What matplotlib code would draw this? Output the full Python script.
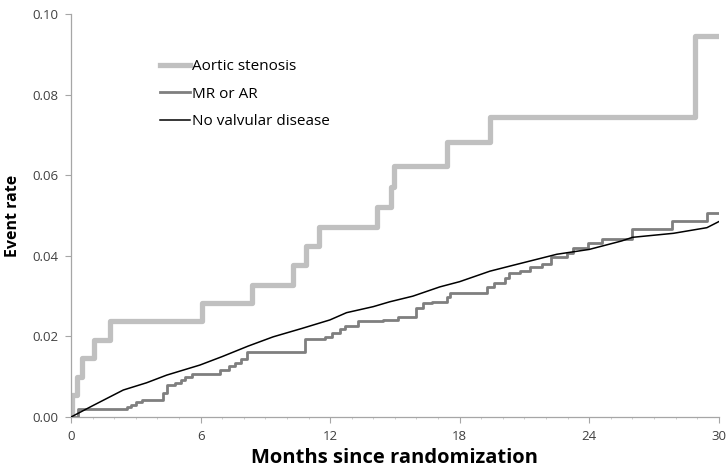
import matplotlib
matplotlib.use('Agg')
import matplotlib.pyplot as plt
from matplotlib.ticker import MultipleLocator

plt.rcParams['font.family'] = ['Open Sans', 'DejaVu Sans']

# Aortic stenosis (step, value holds from t onward)
as_t = [0, 0.05, 0.28, 0.5, 1.08, 1.8, 6.07, 8.4, 10.3, 10.9, 11.5, 14.15,
        14.84, 14.95, 17.4, 19.4, 28.9, 30]
as_v = [0, 0.0055, 0.0099, 0.0146, 0.019, 0.0238, 0.0282, 0.0328, 0.0377,
        0.0425, 0.0472, 0.0522, 0.0571, 0.0623, 0.0683, 0.0745, 0.0946, 0.0946]

# MR or AR (step)
mr_t = [0, 0.3, 2.58, 2.8, 3.0, 3.3, 4.27, 4.43, 4.8, 5.1, 5.3, 5.58, 6.9,
        7.3, 7.6, 7.85, 8.13, 10.83, 11.76, 12.1, 12.45, 12.7, 13.3, 14.46,
        15.15, 16.0, 16.3, 16.7, 17.4, 17.55, 19.25, 19.6, 20.1, 20.3, 20.8,
        21.25, 21.8, 22.25, 22.95, 23.25, 23.95, 24.6, 26.0, 27.85, 29.45, 30]
mr_v = [0, 0.0019, 0.0025, 0.003, 0.0037, 0.0042, 0.006, 0.0079, 0.0085,
        0.0092, 0.0099, 0.0107, 0.0117, 0.0127, 0.0135, 0.0145, 0.0162,
        0.0193, 0.0199, 0.0208, 0.0218, 0.0226, 0.0238, 0.0242, 0.0249,
        0.027, 0.0282, 0.0286, 0.0298, 0.0307, 0.0323, 0.0332, 0.0344,
        0.0357, 0.0363, 0.0373, 0.0381, 0.0398, 0.0406, 0.0419, 0.0431,
        0.0441, 0.0467, 0.0487, 0.0507, 0.0507]

# No valvular disease (fine steps, read as a polyline)
nv_t = [0, 1.0, 1.8, 2.42, 3.5, 4.43, 5.97, 7.0, 8.2, 9.36, 10.7, 11.99,
        12.76, 14.0, 14.76, 15.83, 17.08, 18.0, 19.4, 20.5, 22.5, 24.0, 25.5,
        26.0, 27.9, 29.45, 30]
nv_v = [0, 0.0028, 0.005, 0.0067, 0.0085, 0.0104, 0.0129, 0.015, 0.0176,
        0.0199, 0.022, 0.0241, 0.0259, 0.0274, 0.0286, 0.03, 0.0323, 0.0336,
        0.0362, 0.0377, 0.0404, 0.0416, 0.0437, 0.0446, 0.0456, 0.047, 0.0485]

x_ticks = [0, 6, 12, 18, 24, 30]
y_ticks = [0.00, 0.02, 0.04, 0.06, 0.08, 0.10]

fig = plt.figure(figsize=(7.27, 4.72), dpi=100)
ax = fig.add_axes([0.0977, 0.1165, 0.891, 0.8535])

ax.plot(as_t, as_v, drawstyle='steps-post', color='#c0c0c0', lw=3.8,
        label='Aortic stenosis', zorder=2)
ax.plot(mr_t, mr_v, drawstyle='steps-post', color='#7f7f7f', lw=2.0,
        label='MR or AR', zorder=3)
ax.plot(nv_t, nv_v, color='black', lw=1.1, label='No valvular disease',
        zorder=4)

ax.set_xlim(0, 30)
ax.set_ylim(0, 0.10)
ax.set_xticks(x_ticks)
ax.set_yticks(y_ticks)
ax.set_yticklabels([f'{v:.2f}' for v in y_ticks])
ax.xaxis.set_minor_locator(MultipleLocator(1))

for s in ['top', 'right']:
    ax.spines[s].set_visible(False)
for s in ['left', 'bottom']:
    ax.spines[s].set_color('#a6a6a6')
    ax.spines[s].set_linewidth(0.9)
ax.tick_params(axis='both', which='major', direction='out', length=4,
               color='#a6a6a6', labelsize=9.5, labelcolor='#404040', pad=5)
ax.tick_params(axis='x', which='minor', direction='out', length=1.5,
               color='#c8c8c8')

ax.set_xlabel('Months since randomization', fontsize=14.5, fontweight='bold',
              labelpad=4)
ax.set_ylabel('Event rate', fontsize=11.5, fontweight='bold', labelpad=8)

ax.legend(loc='center left', bbox_to_anchor=(0.137, 0.8015), frameon=False,
          fontsize=11, handlelength=2.0, handletextpad=0.1,
          labelspacing=0.83, borderaxespad=0, borderpad=0)

fig.savefig('out.png', dpi=100, facecolor='white')
